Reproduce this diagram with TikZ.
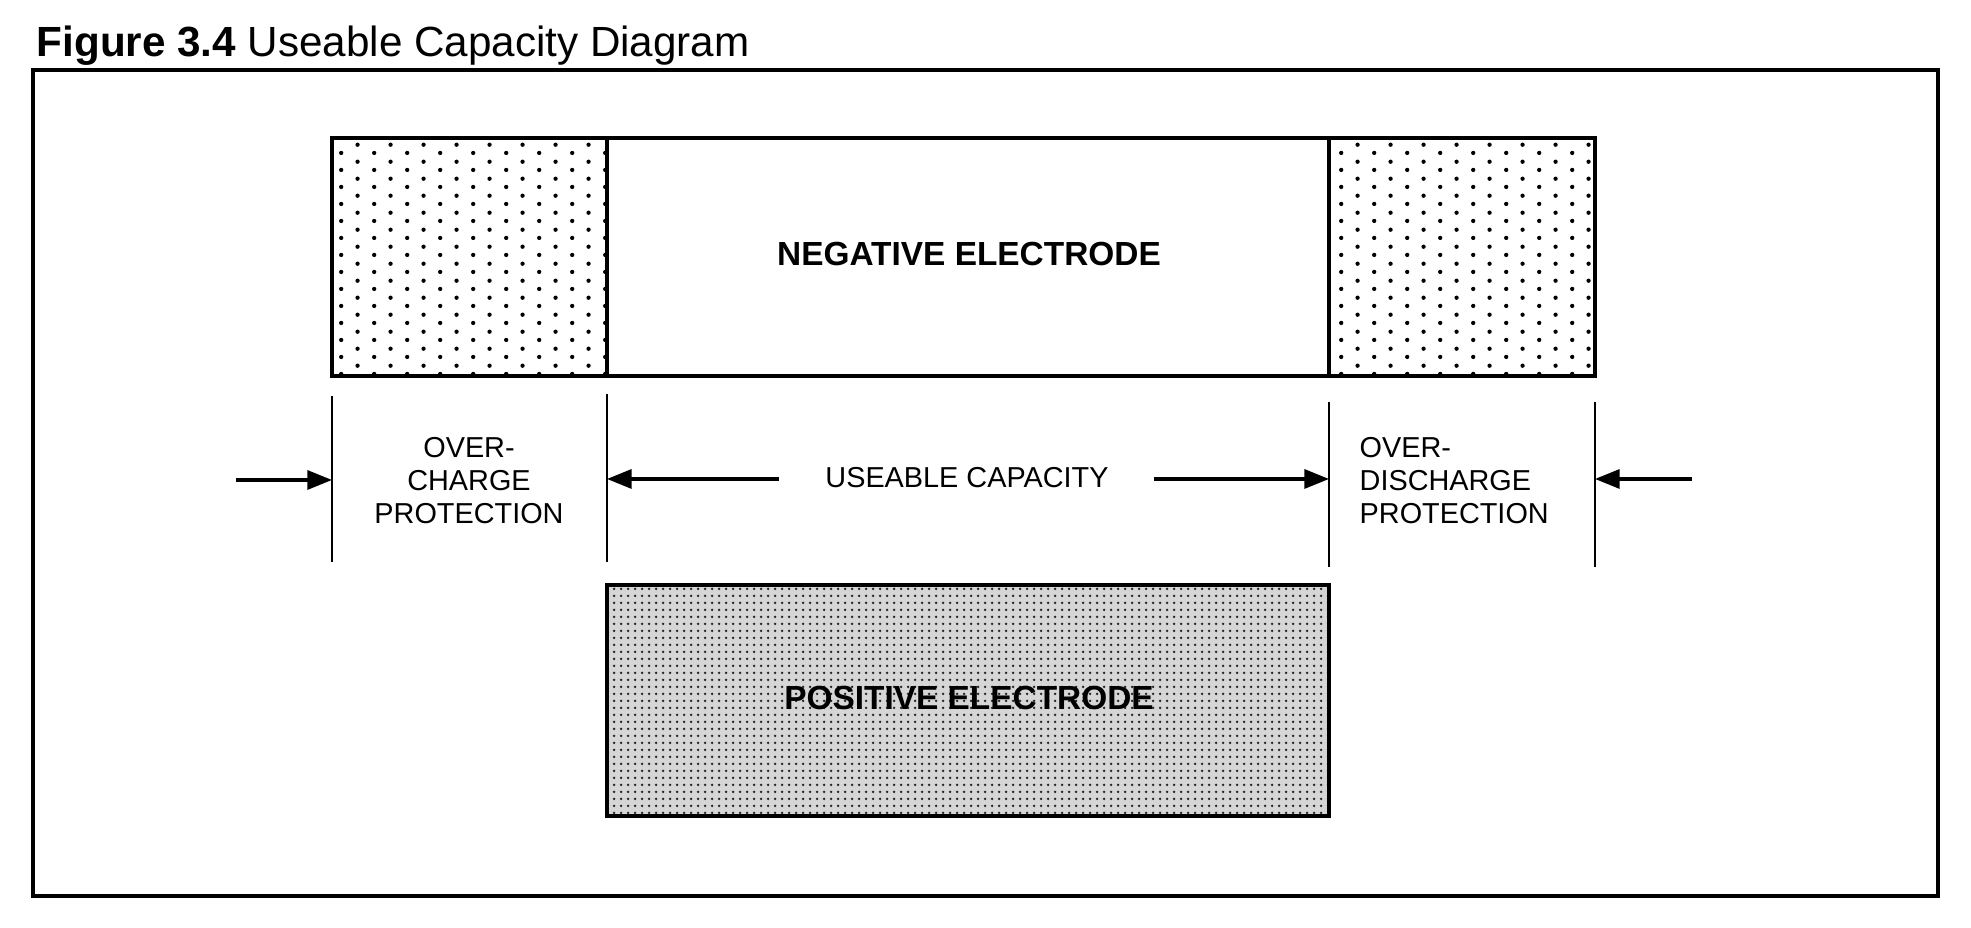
\documentclass[tikz,border=0pt]{standalone}
\usepackage{fontspec}
\setmainfont{Liberation Sans}
\usetikzlibrary{arrows.meta,patterns}

% staggered dots for the protection zones, fine stipple for the positive side
\pgfdeclarepatternformonly{sparsedots}{\pgfpointorigin}{\pgfpoint{9.48pt}{4.74pt}}{\pgfpoint{9.48pt}{4.74pt}}{%
  \pgfpathcircle{\pgfpoint{2.37pt}{1.18pt}}{0.62pt}%
  \pgfpathcircle{\pgfpoint{7.11pt}{3.55pt}}{0.62pt}%
  \pgfusepath{fill}}
\pgfdeclarepatternformonly{finedots}{\pgfpointorigin}{\pgfpoint{2pt}{2pt}}{\pgfpoint{2pt}{2pt}}{%
  \pgfpathcircle{\pgfpoint{1pt}{1pt}}{0.45pt}\pgfusepath{fill}}

\begin{document}
\begin{tikzpicture}[
  x=0.01cm, y=0.01cm,
  frame/.style={draw, line width=1pt},
  box/.style={draw, line width=1pt},
  limit/.style={draw, line width=0.55pt},
  arr/.style={line width=0.9pt, -{Triangle[length=7pt,width=5.4pt]}},
  lbl/.style={font=\fontsize{8.2}{9.4}\selectfont, align=center, inner sep=0pt},
  big/.style={font=\fontsize{9.5}{11}\selectfont\bfseries, inner sep=0pt}
]
\useasboundingbox (0,0) rectangle (1971,928);

% title and frame
\node[anchor=base west, inner sep=0pt, font=\fontsize{12}{14}\selectfont] (title) at (36,871)
  {\textbf{Figure 3.4} Useable Capacity Diagram};
\draw[frame] (33,32) rectangle (1938,858);

% negative electrode
\fill[pattern=sparsedots] (332,552) rectangle (607,790);
\fill[pattern=sparsedots] (1329,552) rectangle (1595,790);
\draw[box] (332,552) rectangle (1595,790);
\draw[box] (607,552) -- (607,790) (1329,552) -- (1329,790);
\node[big] (neg) at (969,674) {NEGATIVE ELECTRODE};

% positive electrode
\fill[black!16] (607,112) rectangle (1329,343);
\fill[pattern=finedots, pattern color=black!85] (607,112) rectangle (1329,343);
\draw[box] (607,112) rectangle (1329,343);
\node[big] (pos) at (969,230) {POSITIVE ELECTRODE};

% zone limits
\foreach \x/\a/\b in {332/366/532, 607/366/534, 1329/361/526, 1595/361/526}
  \draw[limit] (\x,\a) -- (\x,\b);

\coordinate (ocHead) at (332,448);
\coordinate (ocTail) at (236,448);
\coordinate (ucLHead) at (607,449);
\coordinate (ucLTail) at (779,449);
\coordinate (ucRHead) at (1329,449);
\coordinate (ucRTail) at (1154,449);
\coordinate (odHead) at (1595,449);
\coordinate (odTail) at (1692,449);

\draw[arr] (ocTail) -- (ocHead);
\draw[arr] (ucLTail) -- (ucLHead);
\draw[arr] (ucRTail) -- (ucRHead);
\draw[arr] (odTail) -- (odHead);

% labels
\node[lbl] (over) at (469,447) {OVER-\\CHARGE\\PROTECTION};
\node[lbl] (use) at (967,450) {USEABLE CAPACITY};
\node[lbl, anchor=west, align=left] (under) at (1359,447) {OVER-\\DISCHARGE\\PROTECTION};
\end{tikzpicture}
\end{document}
